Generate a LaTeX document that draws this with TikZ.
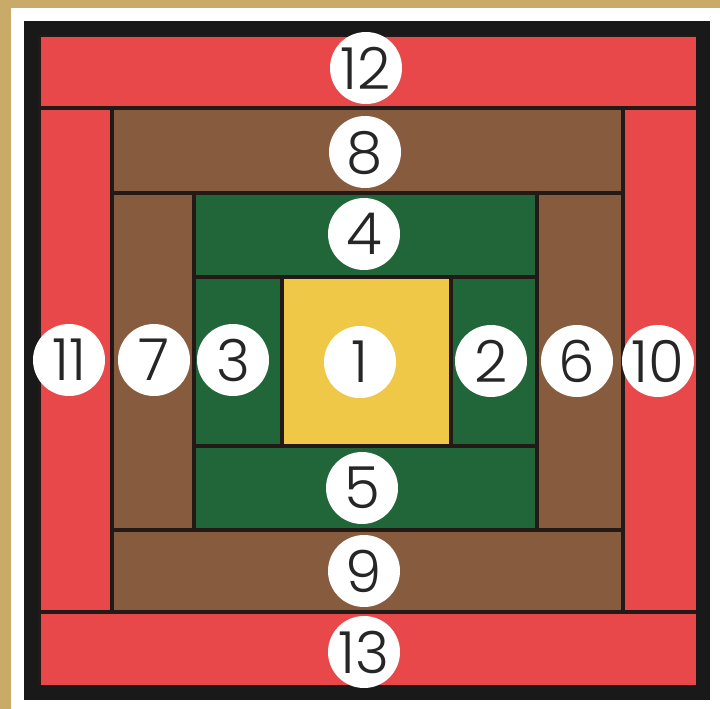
\documentclass[tikz,border=0pt]{standalone}
\usepackage{fontspec}
\IfFontExistsTF{Poppins Light}{\setmainfont{Poppins Light}}{\setmainfont{Poppins}}
\definecolor{tanbg}{RGB}{200,170,105}
\definecolor{qred}{RGB}{232,72,74}
\definecolor{qbrown}{RGB}{135,92,62}
\definecolor{qgreen}{RGB}{32,102,56}
\definecolor{qyellow}{RGB}{240,200,72}
\definecolor{seam}{RGB}{35,25,22}
\tikzset{
  piece/.style={draw=seam, line width=3.5pt},
  num/.style={circle, fill=white, minimum size=72pt, inner sep=0pt,
    font=\fontsize{58}{58}\selectfont, text=black!85, text depth=0pt}
}
\begin{document}
\begin{tikzpicture}[x=1pt,y=-1pt]
\useasboundingbox (0,0) rectangle (720,709);
% background and frame
\fill[tanbg] (0,0) rectangle (720,709);
\fill[white] (11,8) rectangle (720,709);
\fill[black!90] (24,21) rectangle (710,700);
% pieces
\filldraw[piece, fill=qred] (39,35) rectangle (698,108) coordinate (p12);
\filldraw[piece, fill=qred] (39,108) rectangle (112,612) coordinate (p11);
\filldraw[piece, fill=qred] (623,108) rectangle (698,612) coordinate (p10);
\filldraw[piece, fill=qred] (39,612) rectangle (698,687) coordinate (p13);
\filldraw[piece, fill=qbrown] (112,108) rectangle (623,193) coordinate (p8);
\filldraw[piece, fill=qbrown] (112,193) rectangle (194,530) coordinate (p7);
\filldraw[piece, fill=qbrown] (537,193) rectangle (623,530) coordinate (p6);
\filldraw[piece, fill=qbrown] (112,530) rectangle (623,612) coordinate (p9);
\filldraw[piece, fill=qgreen] (194,193) rectangle (537,277) coordinate (p4);
\filldraw[piece, fill=qgreen] (194,277) rectangle (282,446) coordinate (p3);
\filldraw[piece, fill=qyellow] (282,277) rectangle (451,446) coordinate (p1);
\filldraw[piece, fill=qgreen] (451,277) rectangle (537,446) coordinate (p2);
\filldraw[piece, fill=qgreen] (194,446) rectangle (537,530) coordinate (p5);
% frame outline on top of pieces
\draw[black!90, line width=14pt] (31,28) rectangle (703,693);
% number discs
\node[num] (c12) at (366,68) {12};
\node[num] (c8) at (365,152) {8};
\node[num] (c4) at (364,234) {4};
\node[num] (c1) at (360,362) {1};
\node[num] (c5) at (362,488) {5};
\node[num] (c9) at (364,571) {9};
\node[num] (c13) at (364,652) {13};
\node[num] (c11) at (69,360) {11};
\node[num] (c7) at (154,360) {7};
\node[num] (c3) at (233,360) {3};
\node[num] (c2) at (491,361) {2};
\node[num] (c6) at (577,361) {6};
\node[num] (c10) at (658,361) {10};
\end{tikzpicture}
\end{document}
